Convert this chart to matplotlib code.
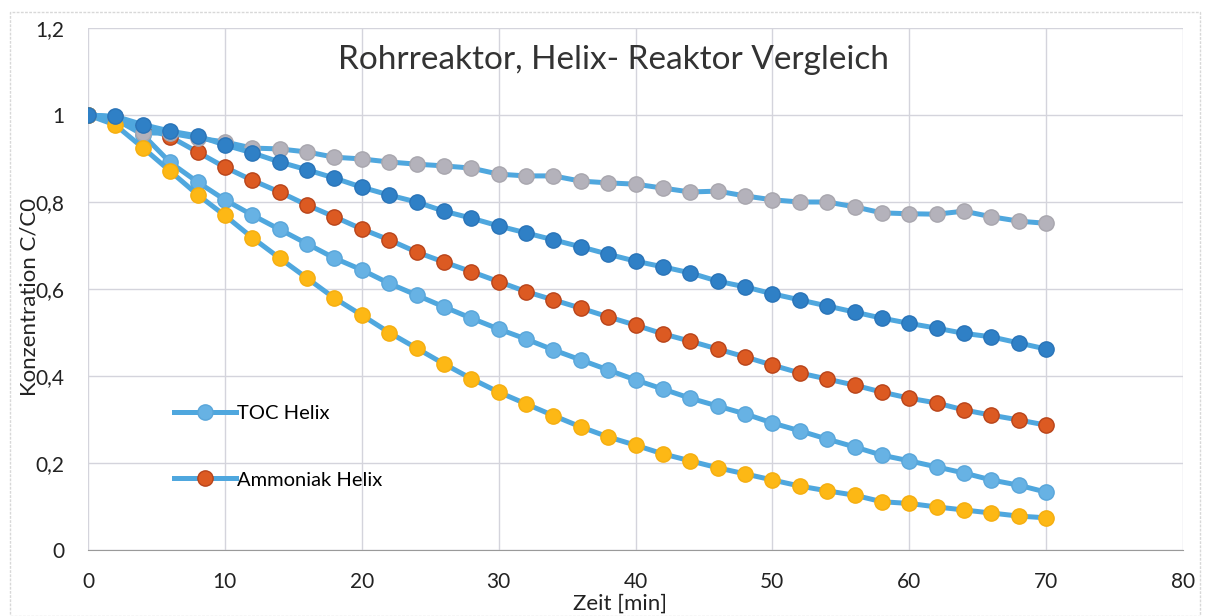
import numpy as np
import matplotlib
matplotlib.use("Agg")
import matplotlib.pyplot as plt
from matplotlib.lines import Line2D
from matplotlib.patches import Rectangle

plt.rcParams['font.family'] = ['Lato', 'DejaVu Sans']

# Zeit [min], alle 2 Minuten
zeit = np.arange(0, 72, 2)

# Excel-Reihenfolge: TOC Helix, Ammoniak Helix, (grau), (gelb), (dunkelblau)
toc_helix = [1.0, 0.99, 0.955, 0.891, 0.846, 0.805, 0.77, 0.737, 0.704, 0.671,
             0.644, 0.613, 0.586, 0.559, 0.533, 0.508, 0.485, 0.46, 0.437, 0.414,
             0.391, 0.37, 0.349, 0.331, 0.313, 0.292, 0.274, 0.255, 0.237, 0.218,
             0.205, 0.191, 0.177, 0.161, 0.149, 0.133]
ammoniak_helix = [1.0, 0.995, 0.972, 0.95, 0.915, 0.88, 0.85, 0.823, 0.793, 0.766,
                  0.738, 0.713, 0.685, 0.662, 0.64, 0.617, 0.594, 0.575, 0.556, 0.536,
                  0.517, 0.497, 0.48, 0.462, 0.444, 0.425, 0.407, 0.393, 0.379, 0.363,
                  0.349, 0.338, 0.322, 0.31, 0.299, 0.287]
reihe_grau = [1.0, 0.995, 0.959, 0.958, 0.947, 0.938, 0.924, 0.922, 0.915, 0.903,
              0.899, 0.892, 0.887, 0.883, 0.878, 0.864, 0.86, 0.86, 0.848, 0.844,
              0.841, 0.832, 0.823, 0.825, 0.814, 0.805, 0.8, 0.8, 0.789, 0.775,
              0.773, 0.772, 0.779, 0.766, 0.756, 0.751]
reihe_gelb = [1.0, 0.977, 0.925, 0.871, 0.817, 0.769, 0.718, 0.671, 0.625, 0.579,
              0.54, 0.5, 0.464, 0.428, 0.394, 0.363, 0.336, 0.309, 0.283, 0.26,
              0.241, 0.221, 0.205, 0.189, 0.175, 0.161, 0.147, 0.136, 0.126, 0.111,
              0.107, 0.099, 0.092, 0.085, 0.078, 0.074]
reihe_dunkelblau = [1.0, 0.997, 0.978, 0.963, 0.952, 0.931, 0.913, 0.892, 0.874, 0.855,
                    0.834, 0.816, 0.8, 0.779, 0.763, 0.745, 0.729, 0.713, 0.697, 0.68,
                    0.664, 0.651, 0.637, 0.618, 0.605, 0.589, 0.575, 0.561, 0.547, 0.533,
                    0.521, 0.51, 0.498, 0.49, 0.476, 0.462]

serien = [toc_helix, ammoniak_helix, reihe_grau, reihe_gelb, reihe_dunkelblau]
farben = ['#67b2e4', '#dc5a22', '#b4b2bb', '#fdb815', '#2f80c6']
kanten = ['#5aa6da', '#b8441a', '#a8a6ae', '#f5ae10', '#2a74b8']
linienfarbe = '#4fa7de'

xticks = [0, 10, 20, 30, 40, 50, 60, 70, 80]
yticks = [0, 0.2, 0.4, 0.6, 0.8, 1.0, 1.2]
ytick_labels = ['0', '0,2', '0,4', '0,6', '0,8', '1', '1,2']

fig = plt.figure(figsize=(12.09, 6.16), dpi=100)
ax = fig.add_axes([88 / 1209, 1 - 550 / 616, (1183 - 88) / 1209, (550 - 28) / 616])

for werte, fc, ec in zip(serien, farben, kanten):
    ax.plot(zeit, werte, '-', color=linienfarbe, lw=3.6, marker='o', ms=11,
            mfc=fc, mec=ec, mew=1.0, solid_capstyle='round')

ax.set_xlim(0, 80)
ax.set_ylim(0, 1.2)
ax.set_xticks(xticks)
ax.set_yticks(yticks)
ax.set_yticklabels(ytick_labels)
ax.grid(True, color='#d4d4dc', lw=1.0)
ax.set_axisbelow(True)
for s in ['top', 'right', 'left']:
    ax.spines[s].set_visible(False)
ax.spines['bottom'].set_color('#9a9a9a')
ax.tick_params(length=0, labelsize=15, colors='#222222')
ax.tick_params(axis='y', pad=17)
ax.tick_params(axis='x', pad=16)

fig.text(613 / 1209, 1 - 60 / 616, 'Rohrreaktor, Helix- Reaktor Vergleich',
         fontsize=24, color='#333333', ha='center', va='center')
ax.set_xlabel('Zeit [min]', fontsize=16, color='#222222')
ax.xaxis.set_label_coords(0.486, -0.083)
ax.set_ylabel('Konzentration C/C0', fontsize=16, color='#222222')
ax.yaxis.set_label_coords(-0.044, 0.485)

handles = [Line2D([], [], color=linienfarbe, lw=3.6, marker='o', ms=11,
                  mfc=farben[i], mec=kanten[i]) for i in range(2)]
fig.legend(handles, ['TOC Helix', 'Ammoniak Helix'], loc='upper left',
           bbox_to_anchor=(174 / 1209, 1 - 405 / 616), frameon=False,
           fontsize=14.5, handlelength=3.1, handletextpad=0.05,
           labelspacing=2.45, borderpad=0, borderaxespad=0)

fig.patches.append(Rectangle((10 / 1209, 0), 1190 / 1209, 1 - 12 / 616,
                             transform=fig.transFigure, fill=False,
                             ec='#d8d8d8', lw=1.0, ls=(0, (2, 1))))

fig.savefig('out.png', dpi=100)
